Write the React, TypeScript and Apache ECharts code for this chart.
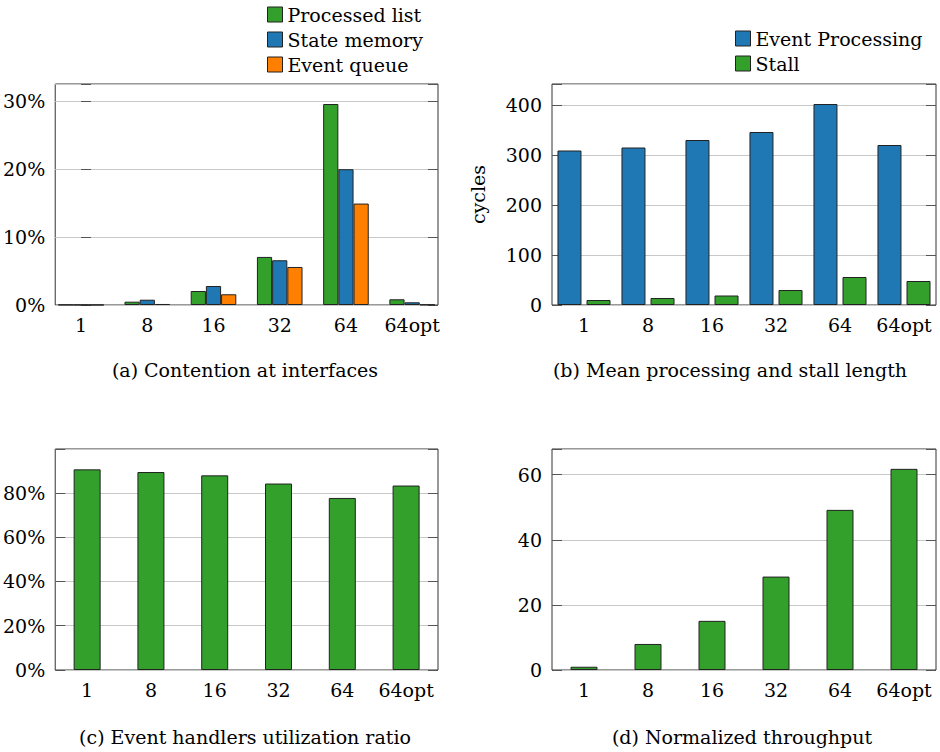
import React, { useEffect, useRef } from "react";
import * as echarts from "echarts";

const categories = ["1", "8", "16", "32", "64", "64opt"];
// (a) Contention at interfaces, %
const processedList = [0.03, 0.49, 2.06, 7.08, 29.6, 0.84];
const stateMemory = [0.02, 0.78, 2.8, 6.59, 20.0, 0.4];
const eventQueue = [0.01, 0.15, 1.58, 5.6, 14.94, 0.05];
// (b) Mean processing and stall length, cycles
const eventProcessing = [309, 315, 330, 346, 402, 320];
const stall = [10, 14, 19, 30, 56, 48];
// (c) Event handlers utilization ratio, %
const utilization = [90.6, 89.4, 87.9, 84.2, 77.7, 83.3];
// (d) Normalized throughput
const throughput = [1.0, 8.0, 15.1, 28.7, 49.2, 61.8];

const captions = [
  "(a) Contention at interfaces",
  "(b) Mean processing and stall length",
  "(c) Event handlers utilization ratio",
  "(d) Normalized throughput",
];

const GREEN = "#33a02c";
const BLUE = "#1f78b4";
const ORANGE = "#ff7f00";
const FONT = "DejaVu Serif";
const FS = 19;

function yAxes(gridIndex: number, max: number, interval: number, fmt: (v: number) => string, name?: string) {
  const tick = { show: true, inside: true, length: 10, lineStyle: { color: "#555", width: 1 } };
  const left: any = {
    type: "value",
    gridIndex,
    min: 0,
    max,
    interval,
    axisLine: { show: false },
    axisTick: tick,
    axisLabel: {
      fontFamily: FONT,
      fontSize: FS,
      color: "#000",
      margin: 10,
      formatter: (v: number) => (Math.abs(v % interval) < 1e-9 ? fmt(v) : ""),
    },
    splitLine: { show: true, lineStyle: { color: "#c8c8c8", width: 1 } },
  };
  if (name) {
    left.name = name;
    left.nameLocation = "middle";
    left.nameRotate = 90;
    left.nameGap = 65;
    left.nameTextStyle = { fontFamily: FONT, fontSize: FS, color: "#000" };
  }
  const right = {
    type: "value",
    gridIndex,
    position: "right",
    min: 0,
    max,
    interval,
    axisLine: { show: false },
    axisTick: tick,
    axisLabel: { show: false },
    splitLine: { show: false },
  };
  return [left, right];
}

const xLabel = {
  fontFamily: FONT,
  fontSize: FS,
  color: "#000",
  margin: 10,
};

const barStyle = (color: string) => ({ color, borderColor: "#222", borderWidth: 1 });

export default function App() {
  const ref = useRef<HTMLDivElement>(null);
  useEffect(() => {
    if (!ref.current) return;
    const chart = echarts.init(ref.current, undefined, { renderer: "svg" });
    const gridBase = { show: true, borderColor: "#333", borderWidth: 1, backgroundColor: "transparent", containLabel: false };
    const legendText = { fontFamily: FONT, fontSize: FS, color: "#000", lineHeight: 22 };
    const option: any = {
      animation: false,
      backgroundColor: "#fff",
      textStyle: { fontFamily: FONT },
      grid: [
        { ...gridBase, left: 53, top: 84, width: 385, height: 221 },
        { ...gridBase, left: 552, top: 84, width: 384, height: 221 },
        { ...gridBase, left: 53, top: 449, width: 385, height: 221 },
        { ...gridBase, left: 552, top: 449, width: 384, height: 221 },
      ],
      legend: [
        {
          data: ["Processed list", "State memory", "Event queue"],
          orient: "vertical",
          left: 267,
          top: 3.5,
          padding: 0,
          itemWidth: 15,
          itemHeight: 15,
          itemGap: 3,
          icon: "rect",
          itemStyle: { borderColor: "#222", borderWidth: 1 },
          textStyle: legendText,
        },
        {
          data: ["Event Processing", "Stall"],
          orient: "vertical",
          left: 735,
          top: 27.5,
          padding: 0,
          itemWidth: 15,
          itemHeight: 15,
          itemGap: 3,
          icon: "rect",
          itemStyle: { borderColor: "#222", borderWidth: 1 },
          textStyle: legendText,
        },
      ],
      xAxis: [
        {
          type: "value",
          gridIndex: 0,
          min: -0.39,
          max: 5.39,
          axisLine: { show: false },
          axisTick: { show: false },
          splitLine: { show: false },
          axisLabel: {
            ...xLabel,
            customValues: [0, 1, 2, 3, 4, 5],
            formatter: (v: number) => (Number.isInteger(v) && categories[v] !== undefined ? categories[v] : ""),
          },
        },
        ...[1, 2, 3].map((g) => ({
          type: "category",
          gridIndex: g,
          data: categories,
          axisLine: { show: false },
          axisTick: { show: false },
          splitLine: { show: false },
          axisLabel: { ...xLabel, interval: 0 },
        })),
      ],
      yAxis: [
        ...yAxes(0, 32.55, 10, (v) => `${v}%`),
        ...yAxes(1, 442, 100, (v) => `${v}`, "cycles"),
        ...yAxes(2, 99.8, 20, (v) => `${v}%`),
        ...yAxes(3, 67.9, 20, (v) => `${v}`),
      ],
      series: [
        {
          name: "Processed list",
          type: "bar",
          xAxisIndex: 0,
          yAxisIndex: 0,
          barWidth: 15.2,
          barGap: "0%",
          itemStyle: barStyle(GREEN),
          data: processedList.map((v, i) => [i, v]),
        },
        {
          name: "State memory",
          type: "bar",
          xAxisIndex: 0,
          yAxisIndex: 0,
          barWidth: 15.2,
          barGap: "0%",
          itemStyle: barStyle(BLUE),
          data: stateMemory.map((v, i) => [i, v]),
        },
        {
          name: "Event queue",
          type: "bar",
          xAxisIndex: 0,
          yAxisIndex: 0,
          barWidth: 15.2,
          barGap: "0%",
          itemStyle: barStyle(ORANGE),
          data: eventQueue.map((v, i) => [i, v]),
        },
        {
          name: "Event Processing",
          type: "bar",
          xAxisIndex: 1,
          yAxisIndex: 2,
          barWidth: 24,
          barGap: "21%",
          itemStyle: barStyle(BLUE),
          data: eventProcessing,
        },
        {
          name: "Stall",
          type: "bar",
          xAxisIndex: 1,
          yAxisIndex: 2,
          barWidth: 24,
          barGap: "21%",
          itemStyle: barStyle(GREEN),
          data: stall,
        },
        {
          name: "Utilization",
          type: "bar",
          xAxisIndex: 2,
          yAxisIndex: 4,
          barWidth: 27,
          itemStyle: barStyle(GREEN),
          data: utilization,
        },
        {
          name: "Throughput",
          type: "bar",
          xAxisIndex: 3,
          yAxisIndex: 6,
          barWidth: 27,
          itemStyle: barStyle(GREEN),
          data: throughput,
        },
      ],
      graphic: [
        { x: 245, y: 370 },
        { x: 730, y: 370 },
        { x: 245, y: 737 },
        { x: 742, y: 737 },
      ].map((p, i) => ({
        type: "text",
        x: p.x,
        y: p.y,
        style: {
          text: captions[i],
          fontFamily: FONT,
          fontSize: FS,
          fill: "#000",
          align: "center",
          verticalAlign: "middle",
        },
      })),
    };
    chart.setOption(option);
    return () => chart.dispose();
  }, []);
  return (
    <div
      ref={ref}
      style={{ position: "absolute", left: 0, top: 0, width: 940, height: 752, background: "#fff" }}
    />
  );
}
